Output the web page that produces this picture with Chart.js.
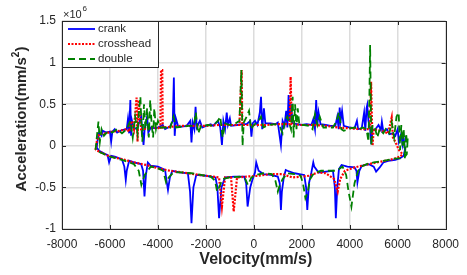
<!DOCTYPE html>
<html>
<head>
<meta charset="utf-8">
<script src="https://cdn.jsdelivr.net/npm/chart.js@4.4.1/dist/chart.umd.min.js"></script>
<style>
  html, body { margin: 0; padding: 0; background: #fff; }
  #wrap { width: 467px; height: 275px; }
</style>
</head>
<body>
<div id="wrap"><canvas id="chart" width="467" height="275"></canvas></div>
<script>
// velocity (mm/s) and acceleration (x10^6 mm/s^2), loop order: upper branch left->right, lower branch right->left
const crankVel = [-6550,-6500,-6450,-6350,-6300,-6150,-6000,-5950,-5900,-5800,-5700,-5500,-5300,-5250,-5200,-5150,-5120,-5080,-5000,-4850,-4700,-4650,-4600,-4550,-4450,-4400,-4300,-4100,-4000,-3800,-3700,-3500,-3380,-3335,-3300,-3250,-3150,-3000,-2800,-2650,-2600,-2550,-2480,-2430,-2380,-2250,-2150,-2000,-1800,-1700,-1500,-1400,-1330,-1270,-1200,-1130,-1080,-1000,-950,-700,-500,-300,-150,-100,-50,50,150,250,300,350,420,480,700,900,1000,1130,1200,1280,1350,1400,1450,1500,1550,1620,1800,2000,2200,2400,2480,2550,2600,2650,2700,2780,3000,3200,3400,3480,3540,3580,3620,3680,3750,4000,4200,4300,4350,4500,4600,4650,4700,4730,4780,4850,4900,4950,5050,5200,5300,5340,5400,5550,5650,5800,5900,6000,6050,6150,6200,6250,6300,
  6250,6100,5900,5600,5400,5250,5100,5000,4800,4500,4400,4320,4280,4200,3900,3660,3550,3480,3420,3380,3300,3000,2700,2520,2480,2400,2300,2230,2180,2100,1900,1700,1400,1330,1250,1170,1130,1080,1000,700,400,200,100,50,-50,-150,-260,-320,-400,-800,-1200,-1350,-1450,-1520,-1600,-2000,-2400,-2520,-2600,-2660,-2750,-3100,-3400,-3500,-3580,-3650,-3700,-4000,-4300,-4420,-4500,-4560,-4620,-4700,-5000,-5200,-5300,-5340,-5400,-5500,-5800,-5950,-6036,-6100,-6200,-6450,-6550];
const crankAcc = [-0.02,0.1,0.16,0.12,0.18,0.16,0.17,0.05,0.17,0.2,0.16,0.19,0.2,0.32,0.15,0.55,0.12,0.3,0.2,0.22,0.35,0.18,0.01,0.21,0.35,0.16,0.22,0.21,0.22,0.25,0.2,0.23,0.3,0.82,0.12,0.33,0.23,0.23,0.24,0.3,0.04,0.28,0.2,0.47,0.22,0.3,0.22,0.24,0.26,0.24,0.3,0.22,0.01,0.3,0.2,0.40,0.25,0.33,0.24,0.25,0.26,0.26,0.3,0.11,0.27,0.3,0.25,0.4,0.59,0.2,0.45,0.27,0.27,0.26,0.28,0.01,0.3,0.24,0.42,0.22,0.61,0.3,0.5,0.27,0.26,0.25,0.26,0.25,0.32,0.2,0.55,0.25,0.4,0.26,0.25,0.24,0.24,0.35,0.2,0.46,0.3,0.42,0.24,0.22,0.21,0.3,0.2,0.21,0.4,0.18,0.45,0.49,0.3,0.2,0.02,0.2,0.19,0.25,0.19,0.29,0.17,0.2,0.14,0.15,0.12,0.2,0.05,0.15,0.02,0.1,-0.05,
  -0.12,-0.15,-0.17,-0.18,-0.2,-0.26,-0.31,-0.25,-0.22,-0.24,-0.3,-0.44,-0.3,-0.26,-0.25,-0.23,-0.28,-0.5,-0.87,-0.5,-0.3,-0.31,-0.32,-0.25,-0.2,-0.32,-0.45,-0.77,-0.5,-0.35,-0.34,-0.33,-0.3,-0.29,-0.38,-0.55,-0.77,-0.45,-0.37,-0.35,-0.34,-0.3,-0.2,-0.32,-0.4,-0.5,-0.73,-0.45,-0.37,-0.37,-0.38,-0.5,-0.87,-0.5,-0.38,-0.36,-0.35,-0.5,-0.93,-0.55,-0.33,-0.32,-0.3,-0.38,-0.53,-0.4,-0.29,-0.25,-0.24,-0.2,-0.35,-0.61,-0.3,-0.22,-0.2,-0.18,-0.3,-0.41,-0.25,-0.16,-0.13,-0.12,-0.2,-0.11,-0.1,-0.06,-0.02];

const crossVel = [-6600,-6550,-6450,-6200,-5900,-5600,-5300,-5200,-5100,-5000,-4890,-4850,-4800,-4700,-4400,-4000,-3900,-3870,-3820,-3800,-3400,-3000,-2500,-2000,-1500,-1000,-600,-510,-480,0,500,1000,1500,1535,1580,2000,2500,3000,3500,4000,4500,4850,4890,4950,5000,5300,5600,5750,5800,5900,6050,6200,
  6100,5800,5300,4800,4200,3800,3600,3500,3350,3000,2680,2300,2000,1600,1200,700,200,-300,-700,-840,-950,-1200,-1330,-1450,-2000,-2500,-3000,-3500,-4000,-4500,-5000,-5500,-6000,-6300,-6600];
const crossAcc = [-0.05,0.05,0.14,0.15,0.17,0.18,0.2,0.17,0.3,0.2,0.58,0.05,0.55,0.2,0.21,0.22,0.2,0.91,0.91,0.22,0.23,0.24,0.24,0.24,0.25,0.25,0.25,0.91,0.25,0.25,0.25,0.26,0.26,0.83,0.26,0.25,0.25,0.24,0.22,0.21,0.2,0.2,0.77,0.0,0.2,0.18,0.15,0.34,0.1,0.05,-0.05,-0.1,
  -0.13,-0.16,-0.19,-0.22,-0.26,-0.3,-0.4,-0.55,-0.4,-0.33,-0.32,-0.36,-0.37,-0.38,-0.34,-0.34,-0.36,-0.37,-0.38,-0.79,-0.38,-0.38,-0.73,-0.38,-0.36,-0.34,-0.32,-0.3,-0.27,-0.23,-0.2,-0.16,-0.13,-0.09,-0.05];

const doubleVel = [-6600,-6550,-6480,-6420,-6350,-6250,-6100,-5900,-5700,-5500,-5300,-5150,-5050,-4950,-4850,-4780,-4730,-4680,-4650,-4580,-4520,-4450,-4380,-4320,-4260,-4200,-4150,-4080,-4000,-3900,-3700,-3500,-3350,-3250,-3000,-2700,-2500,-2420,-2320,-2200,-1900,-1700,-1500,-1400,-1300,-1200,-1000,-800,-600,-520,-490,-470,-420,-300,-200,-120,0,200,300,400,600,900,1100,1200,1300,1400,1550,1620,1660,1720,1780,1830,1900,2100,2300,2450,2550,2650,2750,2900,3100,3300,3450,3550,3650,3750,4000,4200,4400,4550,4700,4780,4820,4850,4880,4900,4950,5050,5150,5250,5400,5500,5650,5750,5850,5950,6040,6100,6150,6200,6250,6300,6350,6400,6420,6380,
  6250,6000,5800,5400,5000,4700,4500,4350,4200,4070,3950,3850,3700,3550,3400,3100,2800,2500,2350,2250,2150,2050,1950,1700,1400,1200,1050,1000,900,750,400,100,-100,-250,-350,-600,-1000,-1300,-1450,-1530,-1620,-1800,-2200,-2600,-3000,-3350,-3550,-3660,-3780,-4000,-4300,-4550,-4690,-4800,-5000,-5300,-5500,-6000,-6400,-6600];
const doubleAcc = [-0.05,0.1,0.29,0.05,0.2,0.12,0.17,0.16,0.2,0.15,0.2,0.3,0.1,0.35,0.15,0.45,0.59,0.2,0.05,0.5,0.2,0.45,0.1,0.55,0.25,0.1,0.45,0.2,0.3,0.22,0.22,0.2,0.35,0.22,0.23,0.24,0.24,0.4,0.15,0.24,0.25,0.24,0.3,0.35,0.1,0.27,0.25,0.26,0.3,0.91,0.4,0.0,0.28,0.35,0.42,0.2,0.25,0.3,0.35,0.22,0.25,0.26,0.22,0.15,0.3,0.35,0.2,0.59,0.1,0.5,0.2,0.45,0.25,0.25,0.24,0.2,0.38,0.25,0.35,0.22,0.22,0.22,0.3,0.4,0.2,0.18,0.21,0.22,0.2,0.22,0.2,0.05,0.6,1.21,0.5,0.0,0.25,0.22,0.1,0.2,0.15,0.2,0.15,0.28,0.1,0.35,0.40,-0.05,0.25,0.0,0.2,-0.15,0.15,0.0,0.1,-0.1,
  -0.15,-0.15,-0.16,-0.18,-0.2,-0.22,-0.25,-0.3,-0.45,-0.73,-0.55,-0.35,-0.25,-0.28,-0.3,-0.3,-0.3,-0.33,-0.4,-0.55,-0.63,-0.45,-0.36,-0.34,-0.33,-0.4,-0.5,-0.55,-0.42,-0.34,-0.33,-0.35,-0.38,-0.47,-0.4,-0.37,-0.38,-0.4,-0.5,-0.55,-0.42,-0.37,-0.35,-0.33,-0.32,-0.32,-0.38,-0.44,-0.3,-0.27,-0.25,-0.35,-0.47,-0.3,-0.22,-0.19,-0.17,-0.13,-0.08,-0.05];

const seriesNames = ['crank', 'crosshead', 'double'];
const xTicks = [-8000, -6000, -4000, -2000, 0, 2000, 4000, 6000, 8000];
const yTicks = [-1, -0.5, 0, 0.5, 1, 1.5];

function pts(xs, ys) { return xs.map((x, i) => ({ x: x, y: ys[i] })); }

const FONT = '"Liberation Sans", Arial, sans-serif';
const TXT = '#262626';

const styles = [
  { color: '#0000ff', width: 1.8, dash: [] },
  { color: '#ff0000', width: 2.2, dash: [2, 1.5] },
  { color: '#008000', width: 1.8, dash: [7, 4] }
];

// axes box, inward ticks, titles, legend
const decor = {
  id: 'decor',
  afterDatasetsDraw(chart) {
    const ctx = chart.ctx, a = chart.chartArea;
    const xs = chart.scales.x, ys = chart.scales.y;
    ctx.save();
    ctx.strokeStyle = '#262626';
    ctx.lineWidth = 1;
    ctx.setLineDash([]);
    ctx.beginPath();
    xTicks.forEach(v => {
      const px = Math.round(xs.getPixelForValue(v)) + 0.5;
      ctx.moveTo(px, a.bottom); ctx.lineTo(px, a.bottom - 4);
      ctx.moveTo(px, a.top); ctx.lineTo(px, a.top + 4);
    });
    yTicks.forEach(v => {
      const py = Math.round(ys.getPixelForValue(v)) + 0.5;
      ctx.moveTo(a.left, py); ctx.lineTo(a.left + 4, py);
      ctx.moveTo(a.right, py); ctx.lineTo(a.right - 4, py);
    });
    ctx.stroke();
    ctx.strokeRect(Math.round(a.left) + 0.5, Math.round(a.top) + 0.5, Math.round(a.right - a.left), Math.round(a.bottom - a.top));

    // legend
    const lx = a.left + 0.5, ly = a.top + 0.5, lw = 96, lh = 46;
    ctx.fillStyle = '#fff';
    ctx.fillRect(lx, ly, lw, lh);
    ctx.strokeRect(lx, ly, lw, lh);
    ctx.font = '11.5px ' + FONT;
    ctx.textBaseline = 'middle';
    seriesNames.forEach((name, i) => {
      const s = styles[i], y = a.top + 8 + i * 15;
      ctx.strokeStyle = s.color; ctx.lineWidth = s.width; ctx.setLineDash(s.dash);
      ctx.beginPath(); ctx.moveTo(a.left + 6, y); ctx.lineTo(a.left + 33, y); ctx.stroke();
      ctx.fillStyle = TXT;
      ctx.fillText(name, a.left + 36, y);
    });
    ctx.setLineDash([]);

    // x10^6
    ctx.fillStyle = TXT;
    ctx.textBaseline = 'alphabetic';
    ctx.textAlign = 'left';
    ctx.font = '11px ' + FONT;
    ctx.fillText('\u00d710', a.left + 1, a.top - 3);
    ctx.font = '8px ' + FONT;
    ctx.fillText('6', a.left + 1 + ctx.measureText('\u00d710').width + 6, a.top - 10);

    // axis titles
    ctx.fillStyle = TXT;
    ctx.font = 'bold 16px ' + FONT;
    ctx.textAlign = 'center';
    ctx.textBaseline = 'middle';
    ctx.fillText('Velocity(mm/s)', (a.left + a.right) / 2 + 2, 260);

    ctx.translate(22, (a.top + a.bottom) / 2 - 6);
    ctx.rotate(-Math.PI / 2);
    ctx.font = 'bold 15px ' + FONT;
    const t1 = 'Acceleration(mm/s', t2 = ')';
    const w1 = ctx.measureText(t1).width;
    ctx.font = 'bold 10px ' + FONT;
    const wsup = ctx.measureText('2').width;
    ctx.font = 'bold 15px ' + FONT;
    const w2 = ctx.measureText(t2).width;
    const total = w1 + wsup + w2;
    ctx.textAlign = 'left';
    ctx.fillText(t1, -total / 2, 0);
    ctx.font = 'bold 10px ' + FONT;
    ctx.fillText('2', -total / 2 + w1, -6);
    ctx.font = 'bold 15px ' + FONT;
    ctx.fillText(t2, -total / 2 + w1 + wsup, 0);
    ctx.restore();
  }
};

const datasets = [
  { label: seriesNames[0], data: pts(crankVel, crankAcc), order: 3 },
  { label: seriesNames[1], data: pts(crossVel, crossAcc), order: 2 },
  { label: seriesNames[2], data: pts(doubleVel, doubleAcc), order: 1 }
].map((d, i) => Object.assign(d, {
  showLine: true,
  borderColor: styles[i].color,
  backgroundColor: styles[i].color,
  borderWidth: styles[i].width,
  borderDash: styles[i].dash,
  pointRadius: 0,
  tension: 0
}));

new Chart(document.getElementById('chart'), {
  type: 'scatter',
  data: { datasets: datasets },
  options: {
    responsive: false,
    animation: false,
    devicePixelRatio: 1,
    layout: { padding: { left: 0, right: 14, top: 21, bottom: 0 } },
    plugins: { legend: { display: false }, tooltip: { enabled: false } },
    scales: {
      x: {
        type: 'linear', min: -8000, max: 8000,
        afterFit: s => { s.height = 46; },
        afterBuildTicks: s => { s.ticks = xTicks.map(v => ({ value: v })); },
        grid: { color: '#dcdcdc', lineWidth: 1.5, drawTicks: false },
        border: { display: false },
        ticks: { padding: 8, maxRotation: 0, color: TXT, font: { family: FONT, size: 12 }, callback: v => String(v) }
      },
      y: {
        type: 'linear', min: -1, max: 1.5,
        afterFit: s => { s.width = 62; },
        afterBuildTicks: s => { s.ticks = yTicks.map(v => ({ value: v })); },
        grid: { color: '#dcdcdc', lineWidth: 1.5, drawTicks: false },
        border: { display: false },
        ticks: { padding: 6, color: TXT, font: { family: FONT, size: 12 }, callback: v => String(v) }
      }
    }
  },
  plugins: [decor]
});
</script>
</body>
</html>
